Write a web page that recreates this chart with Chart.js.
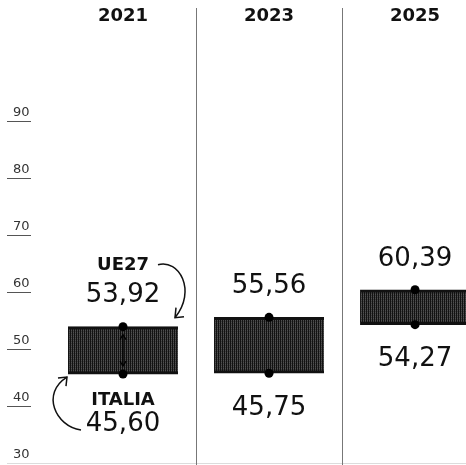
<!DOCTYPE html>
<html><head><meta charset="utf-8">
<script src="https://cdn.jsdelivr.net/npm/chart.js@4"></script>
<style>html,body{margin:0;padding:0;background:#fff}#wrap{width:466px;height:465px;position:relative}</style>
</head><body><div id="wrap"><canvas id="c"></canvas></div>
<script>
const years = ['2021', '2023', '2025'];
const italia = [45.60, 45.75, 54.27];
const ue27 = [53.92, 55.56, 60.39];
const yTickValues = [30, 40, 50, 60, 70, 80, 90];
const seriesNames = ['ITALIA', 'UE27'];

function fmt(v) { return v.toFixed(2).replace('.', ','); }

const canvas = document.getElementById('c');
function makePattern() {
  const p = document.createElement('canvas'); p.width = 2; p.height = 2;
  const g = p.getContext('2d');
  g.fillStyle = '#121212'; g.fillRect(0, 0, 2, 2);
  g.fillStyle = '#505050'; g.fillRect(1, 0, 1, 1);
  g.fillStyle = '#3c3c3c'; g.fillRect(1, 1, 1, 1);
  return canvas.getContext('2d').createPattern(p, 'repeat');
}

function arrowHead(ctx, tx, ty, ax, ay, bx, by) {
  ctx.beginPath(); ctx.moveTo(ax, ay); ctx.lineTo(tx, ty); ctx.lineTo(bx, by); ctx.stroke();
}

const annot = {
  id: 'annot',
  beforeDatasetsDraw(chart) {
    const { ctx, chartArea, scales: { x } } = chart;
    ctx.save();
    ctx.strokeStyle = '#777'; ctx.lineWidth = 1;
    for (let i = 0; i < years.length - 1; i++) {
      const px = Math.round(x.getPixelForValue(i + 0.5)) + 0.5;
      ctx.beginPath(); ctx.moveTo(px, chartArea.top + 1); ctx.lineTo(px, chartArea.bottom + 2); ctx.stroke();
    }
    ctx.restore();
  },
  afterDatasetsDraw(chart) {
    const { ctx, scales: { x, y } } = chart;
    ctx.save();
    ctx.fillStyle = '#111';
    ctx.textAlign = 'center'; ctx.textBaseline = 'middle';
    years.forEach((yr, i) => {
      const cx = x.getPixelForValue(i);
      const top = y.getPixelForValue(ue27[i]);
      const bot = y.getPixelForValue(italia[i]);
      ctx.font = 'bold 18px "DejaVu Sans"';
      ctx.fillText(yr, cx, 16);
      ctx.font = '26px "DejaVu Sans"';
      ctx.fillText(fmt(ue27[i]), cx, top - 31);
      if (i === 0) {
        ctx.fillText(fmt(italia[i]), cx, bot + 50);
        ctx.font = 'bold 18px "DejaVu Sans"';
        ctx.fillText(seriesNames[1], cx, top - 61);
        ctx.fillText(seriesNames[0], cx, bot + 26);
        // arrows
        ctx.strokeStyle = '#111'; ctx.lineWidth = 1.5;
        ctx.beginPath(); ctx.moveTo(cx + 35, top - 62);
        ctx.bezierCurveTo(cx + 56, top - 68, cx + 74, top - 36, cx + 52, top - 9);
        ctx.stroke();
        arrowHead(ctx, cx + 52, top - 9, cx + 53, top - 19, cx + 61, top - 10);
        ctx.beginPath(); ctx.moveTo(cx - 42, bot + 56);
        ctx.bezierCurveTo(cx - 68, bot + 52, cx - 82, bot + 19, cx - 56, bot + 3);
        ctx.stroke();
        arrowHead(ctx, cx - 56, bot + 3, cx - 65, bot + 4, cx - 57, bot + 12);
        // inner double arrow
        ctx.lineWidth = 1.2; ctx.strokeStyle = '#000';
        ctx.beginPath(); ctx.moveTo(cx, top + 8); ctx.lineTo(cx, bot - 8); ctx.stroke();
        arrowHead(ctx, cx, top + 8, cx - 3, top + 13, cx + 3, top + 13);
        arrowHead(ctx, cx, bot - 8, cx - 3, bot - 13, cx + 3, bot - 13);
      } else {
        ctx.fillText(fmt(italia[i]), cx, bot + 35);
      }
    });
    ctx.restore();
  }
};

new Chart(canvas, {
  type: 'bar',
  data: {
    datasets: [
      {
        type: 'bar',
        data: years.map((_, i) => ({ x: i, y: [italia[i], ue27[i]] })),
        backgroundColor: makePattern(),
        borderColor: '#111',
        borderWidth: { top: 3, bottom: 3, left: 0, right: 0 },
        borderSkipped: false,
        barThickness: 110,
        grouped: false,
        order: 2
      },
      {
        type: 'line', label: seriesNames[0], showLine: false,
        data: years.map((_, i) => ({ x: i, y: italia[i] })),
        pointRadius: 4.5, pointBackgroundColor: '#000', pointBorderWidth: 0, order: 1
      },
      {
        type: 'line', label: seriesNames[1], showLine: false,
        data: years.map((_, i) => ({ x: i, y: ue27[i] })),
        pointRadius: 4.5, pointBackgroundColor: '#000', pointBorderWidth: 0, order: 1
      }
    ]
  },
  options: {
    responsive: true, maintainAspectRatio: false, animation: false,
    devicePixelRatio: 1,
    layout: { autoPadding: false, padding: { top: 7, bottom: 2, left: 13, right: 0 } },
    plugins: { legend: { display: false }, tooltip: { enabled: false } },
    scales: {
      x: { type: 'linear', min: -0.63, max: 2.349, offset: false, display: false },
      y: {
        type: 'linear', min: 30, max: 110, position: 'left',
        border: { display: false },
        grid: {
          drawOnChartArea: true, drawTicks: true, tickLength: 24, lineWidth: 1,
          color: c => (c.tick && c.tick.value === 30) ? '#dcdcdc' : 'rgba(0,0,0,0)',
          tickColor: c => (c.tick && c.tick.value === 30) ? '#dcdcdc' : '#555'
        },
        ticks: {
          stepSize: 10, crossAlign: 'far', labelOffset: -8, padding: 0, color: '#333',
          font: { family: 'DejaVu Sans', size: 13 }, autoSkip: false,
          callback: v => String(v)
        },
        afterBuildTicks: s => { s.ticks = yTickValues.map(v => ({ value: v })); },
        afterFit: s => { s.width = 18; s.paddingTop = 0; s.paddingBottom = 0; }
      }
    }
  },
  plugins: [annot]
});
</script>
</body></html>
